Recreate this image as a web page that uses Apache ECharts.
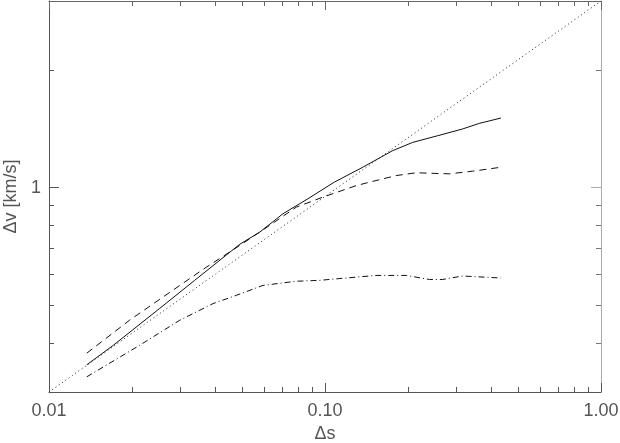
<!DOCTYPE html>
<html>
<head>
<meta charset="utf-8">
<script src="https://cdn.jsdelivr.net/npm/echarts@6/dist/echarts.min.js"></script>
<style>
  html, body { margin: 0; padding: 0; background: #fff; }
  #chart { width: 620px; height: 443px; }
</style>
</head>
<body>
<div id="chart"></div>
<script>
// values, [delta s, delta v]
var solidLine = [
  [0.0137, 0.352], [0.0171, 0.395], [0.0252, 0.491], [0.0337, 0.579],
  [0.0491, 0.716], [0.058, 0.769], [0.0704, 0.857], [0.0867, 0.936],
  [0.108, 1.032], [0.137, 1.127], [0.176, 1.243], [0.208, 1.305],
  [0.256, 1.357], [0.315, 1.412], [0.362, 1.459], [0.434, 1.506]
]
var dashedLine = [
  [0.0137, 0.377], [0.0196, 0.458], [0.0259, 0.525], [0.0372, 0.626],
  [0.0491, 0.711], [0.063, 0.800], [0.0787, 0.891], [0.0982, 0.945],
  [0.130, 1.012], [0.153, 1.042], [0.181, 1.073], [0.214, 1.091],
  [0.282, 1.084], [0.342, 1.101], [0.434, 1.127]
]
var dashDotLine = [
  [0.0137, 0.328], [0.0213, 0.395], [0.0298, 0.458], [0.0393, 0.505],
  [0.0477, 0.530], [0.0596, 0.562], [0.0787, 0.576], [0.0955, 0.579],
  [0.119, 0.587], [0.153, 0.596], [0.197, 0.596], [0.239, 0.582],
  [0.267, 0.582], [0.315, 0.594], [0.434, 0.587]
]
var dottedLine = [[0.01, 0.3], [1, 3]]

var xMajorTicks = [0.01, 0.1, 1]
var xMinorTicks = [0.02, 0.03, 0.04, 0.05, 0.06, 0.07, 0.08, 0.09,
  0.2, 0.3, 0.4, 0.5, 0.6, 0.7, 0.8, 0.9]
var yMajorTicks = [1]
var yMinorTicks = [0.4, 0.5, 0.6, 0.7, 0.8, 0.9, 2]

var textFont = 'Liberation Sans'
var axisGrey = '#555'

function xAxisFor (pos, ticks, len, withLine, withLabel, lineColor) {
  return {
    type: 'log',
    position: pos,
    min: 0.01,
    max: 1,
    name: withLabel ? 'Δs' : '',
    nameLocation: 'middle',
    nameGap: 31,
    nameTextStyle: { fontFamily: textFont, fontSize: 18, color: axisGrey },
    axisLine: { show: withLine, onZero: false, lineStyle: { color: lineColor, width: 1 } },
    axisTick: { inside: true, length: len, customValues: ticks, lineStyle: { color: lineColor } },
    axisLabel: {
      show: withLabel,
      margin: 10,
      fontFamily: textFont,
      fontSize: 18,
      color: axisGrey,
      formatter: function (v) { return Number(v).toFixed(2) }
    },
    splitLine: { show: false },
    minorTick: { show: false }
  }
}

function yAxisFor (pos, ticks, len, withLine, withLabel, lineColor) {
  return {
    type: 'log',
    position: pos,
    min: 0.3,
    max: 3,
    name: withLabel ? 'Δv [km/s]' : '',
    nameLocation: 'middle',
    nameGap: 26,
    nameRotate: 90,
    nameTextStyle: { fontFamily: textFont, fontSize: 18, color: axisGrey },
    axisLine: { show: withLine, onZero: false, lineStyle: { color: lineColor, width: 1 } },
    axisTick: { inside: true, length: len, customValues: ticks, lineStyle: { color: lineColor } },
    axisLabel: {
      show: withLabel,
      margin: 8,
      fontFamily: textFont,
      fontSize: 18,
      color: axisGrey,
      customValues: withLabel ? yMajorTicks : undefined,
      formatter: function (v) { return String(Math.round(v)) }
    },
    splitLine: { show: false },
    minorTick: { show: false }
  }
}

var chart = echarts.init(document.getElementById('chart'), null, { renderer: 'canvas' })

chart.setOption({
  animation: false,
  backgroundColor: '#fff',
  grid: { left: 49, right: 19, top: 1, bottom: 51, containLabel: false, outerBoundsMode: 'none' },
  xAxis: [
    xAxisFor('bottom', xMajorTicks, 9, true, true, axisGrey),
    xAxisFor('bottom', xMinorTicks, 5, false, false, axisGrey),
    xAxisFor('top', xMajorTicks, 9, true, false, '#666'),
    xAxisFor('top', xMinorTicks, 5, false, false, '#666')
  ],
  yAxis: [
    yAxisFor('left', yMajorTicks, 10, true, true, axisGrey),
    yAxisFor('left', yMinorTicks, 5, false, false, axisGrey),
    yAxisFor('right', yMajorTicks, 10, true, false, '#aaa'),
    yAxisFor('right', yMinorTicks, 5, false, false, '#777')
  ],
  series: [
    {
      name: 'solid',
      type: 'line',
      data: solidLine,
      showSymbol: false,
      lineStyle: { color: '#111', width: 1, type: 'solid' }
    },
    {
      name: 'dashed',
      type: 'line',
      data: dashedLine,
      showSymbol: false,
      lineStyle: { color: '#111', width: 1, type: [7, 5] }
    },
    {
      name: 'dash-dot',
      type: 'line',
      data: dashDotLine,
      showSymbol: false,
      lineStyle: { color: '#111', width: 1, type: [6, 3, 1, 3] }
    },
    {
      name: 'dotted',
      type: 'line',
      data: dottedLine,
      showSymbol: false,
      lineStyle: { color: '#222', width: 1, type: [1, 3] }
    }
  ]
})
</script>
</body>
</html>
